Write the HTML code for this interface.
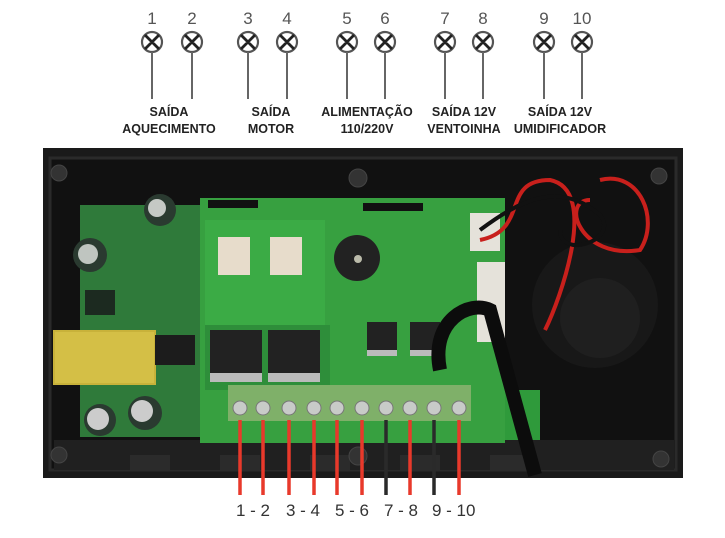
<!DOCTYPE html>
<html><head><meta charset="utf-8"><style>
html,body{margin:0;padding:0;background:#fff;width:725px;height:538px;overflow:hidden}
svg{display:block}
.n{font-family:"Liberation Sans",sans-serif;font-size:17px;fill:#555}
.l{font-family:"Liberation Sans",sans-serif;font-size:12.5px;font-weight:bold;fill:#222}
.b{font-family:"Liberation Sans",sans-serif;font-size:17px;fill:#333}
</style></head><body>
<svg width="725" height="538" viewBox="0 0 725 538">
<!-- top legend -->
<g stroke="#555" stroke-width="2.5" fill="#fff">
<g id="c">
</g>
</g>
<g stroke="#555" fill="none">
<g stroke-width="2.2">
<circle cx="152" cy="42" r="10"/><circle cx="192" cy="42" r="10"/>
<circle cx="248" cy="42" r="10"/><circle cx="287" cy="42" r="10"/>
<circle cx="347" cy="42" r="10"/><circle cx="385" cy="42" r="10"/>
<circle cx="445" cy="42" r="10"/><circle cx="483" cy="42" r="10"/>
<circle cx="544" cy="42" r="10"/><circle cx="582" cy="42" r="10"/>
</g>
<g stroke-width="2.8" stroke="#222">
<path d="M145 35l14 14M159 35l-14 14M185 35l14 14M199 35l-14 14M241 35l14 14M255 35l-14 14M280 35l14 14M294 35l-14 14M340 35l14 14M354 35l-14 14M378 35l14 14M392 35l-14 14M438 35l14 14M452 35l-14 14M476 35l14 14M490 35l-14 14M537 35l14 14M551 35l-14 14M575 35l14 14M589 35l-14 14"/>
</g>
<g stroke-width="2" stroke="#666">
<path d="M152 52V99M192 52V99M248 52V99M287 52V99M347 52V99M385 52V99M445 52V99M483 52V99M544 52V99M582 52V99"/>
</g>
</g>
<g class="n" text-anchor="middle">
<text x="152" y="24">1</text><text x="192" y="24">2</text><text x="248" y="24">3</text><text x="287" y="24">4</text><text x="347" y="24">5</text><text x="385" y="24">6</text><text x="445" y="24">7</text><text x="483" y="24">8</text><text x="544" y="24">9</text><text x="582" y="24">10</text>
</g>
<g class="l" text-anchor="middle">
<text x="169" y="116">SAÍDA</text><text x="169" y="133">AQUECIMENTO</text>
<text x="271" y="116">SAÍDA</text><text x="271" y="133">MOTOR</text>
<text x="367" y="116">ALIMENTAÇÃO</text><text x="367" y="133">110/220V</text>
<text x="464" y="116">SAÍDA 12V</text><text x="464" y="133">VENTOINHA</text>
<text x="560" y="116">SAÍDA 12V</text><text x="560" y="133">UMIDIFICADOR</text>
</g>
<!-- photo -->
<rect x="43" y="148" width="640" height="330" fill="#1a1a1a"/>
<rect x="50" y="158" width="626" height="312" fill="#111" stroke="#2a2a2a" stroke-width="3"/>
<rect x="54" y="440" width="620" height="30" fill="#202020"/>
<g fill="#2b2b2b"><rect x="130" y="455" width="40" height="15"/><rect x="220" y="455" width="40" height="15"/><rect x="310" y="455" width="40" height="15"/><rect x="400" y="455" width="40" height="15"/><rect x="490" y="455" width="40" height="15"/></g>
<g fill="#333" stroke="#444"><circle cx="59" cy="173" r="8"/><circle cx="659" cy="176" r="8"/><circle cx="59" cy="455" r="8"/><circle cx="661" cy="459" r="8"/><circle cx="358" cy="178" r="9"/><circle cx="358" cy="456" r="9"/></g>
<!-- left board -->
<rect x="80" y="205" width="125" height="232" fill="#2f7a3a"/>
<rect x="53" y="330" width="103" height="55" fill="#c8b23a"/>
<rect x="55" y="332" width="99" height="51" fill="#d4bf46"/>
<circle cx="90" cy="255" r="17" fill="#2a3a30"/><circle cx="88" cy="254" r="10" fill="#bfc5c0"/>
<circle cx="160" cy="210" r="16" fill="#2a3a30"/><circle cx="157" cy="208" r="9" fill="#c5c9c5"/>
<circle cx="100" cy="420" r="16" fill="#2a3a30"/><circle cx="98" cy="419" r="11" fill="#ccc"/>
<circle cx="145" cy="413" r="17" fill="#2a3a30"/><circle cx="142" cy="411" r="11" fill="#ccc"/>
<rect x="155" y="335" width="40" height="30" fill="#1c1c1c"/>
<rect x="85" y="290" width="30" height="25" fill="#1c2a20"/>
<!-- main board -->
<rect x="200" y="198" width="305" height="245" fill="#37a040"/>
<rect x="205" y="220" width="120" height="105" fill="#3bab45"/>
<rect x="205" y="325" width="125" height="65" fill="#2e8e3a"/>
<rect x="505" y="390" width="35" height="50" fill="#2f9a3b"/>
<rect x="218" y="237" width="32" height="38" fill="#e7dccb"/><rect x="270" y="237" width="32" height="38" fill="#e7dccb"/>
<circle cx="357" cy="258" r="23" fill="#222"/><circle cx="358" cy="259" r="4" fill="#bba"/>
<g fill="#222"><rect x="210" y="330" width="52" height="45"/><rect x="268" y="330" width="52" height="45"/><rect x="367" y="322" width="30" height="30"/><rect x="410" y="322" width="30" height="30"/></g>
<g fill="#bbb"><rect x="210" y="373" width="52" height="9"/><rect x="268" y="373" width="52" height="9"/><rect x="367" y="350" width="30" height="6"/><rect x="410" y="350" width="30" height="6"/></g>
<g fill="#111"><rect x="208" y="200" width="50" height="8"/><rect x="363" y="203" width="60" height="8"/></g>
<rect x="470" y="213" width="30" height="38" fill="#e5e2da"/>
<rect x="477" y="262" width="28" height="80" fill="#e5e2da"/>
<!-- wires & round -->
<circle cx="595" cy="305" r="63" fill="#181818"/><circle cx="600" cy="318" r="40" fill="#1f1f1f"/>
<g fill="none" stroke-width="4">
<path d="M480 240 C530 230 500 180 550 180 C600 190 560 300 545 330" stroke="#c8201c"/>
<path d="M590 200 C560 200 580 260 640 250 C660 220 640 170 600 180" stroke="#c8201c"/>
<path d="M480 230 C520 200 560 180 600 215 C620 240 560 260 560 230" stroke="#111"/>
</g>
<path d="M440 370 C430 320 470 300 490 310 L520 420 L535 475" fill="none" stroke="#0c0c0c" stroke-width="14"/>
<!-- terminal block -->
<rect x="228" y="385" width="243" height="36" fill="#7fb069"/>
<g fill="#c8cbc8" stroke="#777"><circle cx="240" cy="408" r="7"/><circle cx="263" cy="408" r="7"/><circle cx="289" cy="408" r="7"/><circle cx="314" cy="408" r="7"/><circle cx="337" cy="408" r="7"/><circle cx="362" cy="408" r="7"/><circle cx="386" cy="408" r="7"/><circle cx="410" cy="408" r="7"/><circle cx="434" cy="408" r="7"/><circle cx="459" cy="408" r="7"/></g>
<!-- connector lines -->
<g stroke-width="3.5">
<path d="M240 420V495M263 420V495M289 420V495M314 420V495M337 420V495M362 420V495M410 420V495M459 420V495" stroke="#e8392b"/>
<path d="M386 420V495M434 420V495" stroke="#2a2a2a"/>
</g>
<g class="b">
<text x="236" y="516">1 - 2</text><text x="286" y="516">3 - 4</text><text x="335" y="516">5 - 6</text><text x="384" y="516">7 - 8</text><text x="432" y="516">9 - 10</text>
</g>
</svg>
</body></html>
